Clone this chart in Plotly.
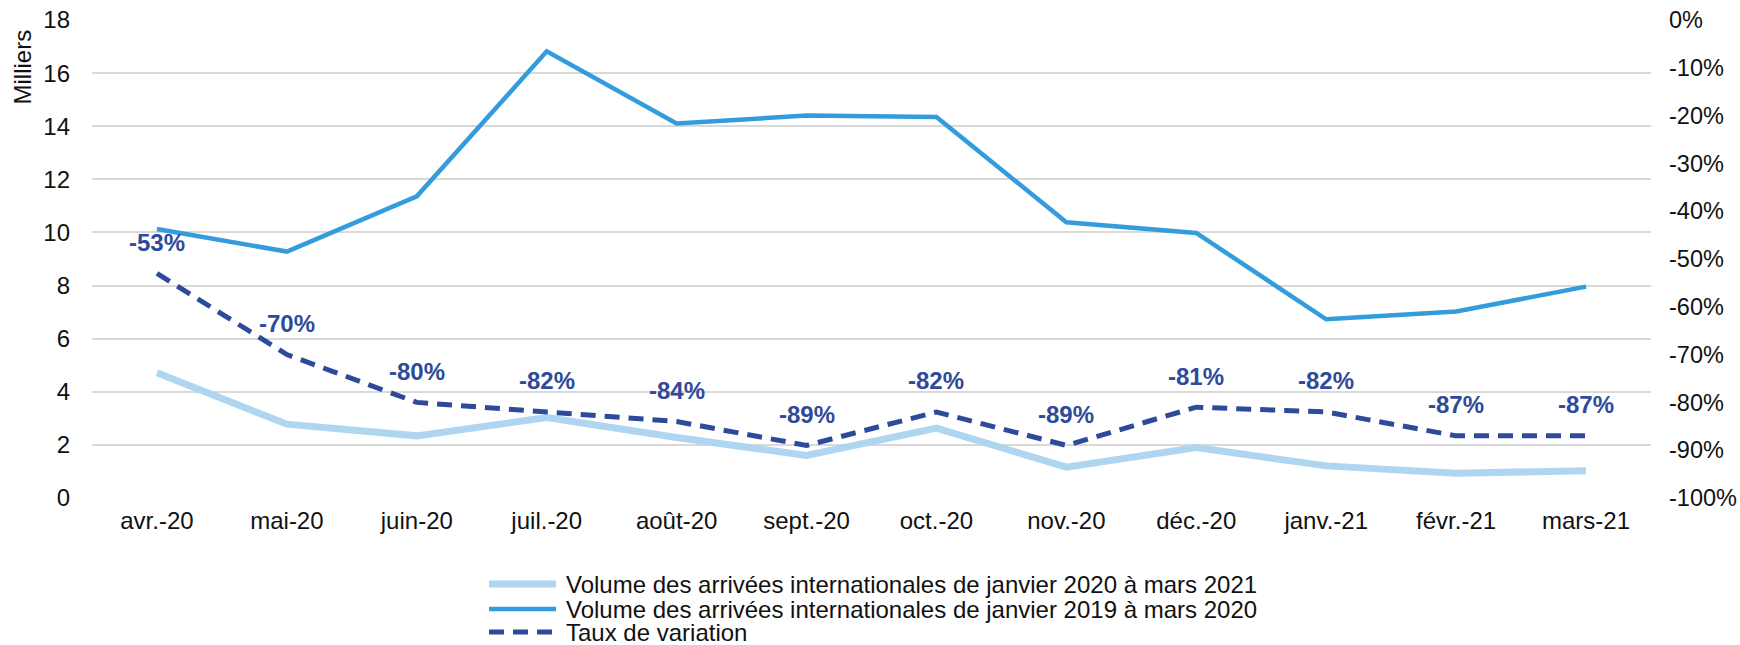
import plotly.graph_objects as go

months = ["avr.-20", "mai-20", "juin-20", "juil.-20", "août-20", "sept.-20",
          "oct.-20", "nov.-20", "déc.-20", "janv.-21", "févr.-21", "mars-21"]
vol_2020_2021 = [4.72, 2.78, 2.34, 3.03, 2.28, 1.60, 2.63, 1.16, 1.90, 1.21, 0.93, 1.03]
vol_2019_2020 = [10.13, 9.28, 11.36, 16.82, 14.10, 14.40, 14.35, 10.38, 9.98, 6.73, 7.02, 7.96]
taux = [-0.53, -0.70, -0.80, -0.82, -0.84, -0.89, -0.82, -0.89, -0.81, -0.82, -0.87, -0.87]
pct_tickvals = [-1.0, -0.9, -0.8, -0.7, -0.6, -0.5, -0.4, -0.3, -0.2, -0.1, 0.0]
pct_ticktext = ["-100%", "-90%", "-80%", "-70%", "-60%", "-50%", "-40%", "-30%", "-20%", "-10%", "0%"]
series_names = ["Volume des arrivées internationales de janvier 2020 à mars 2021",
                "Volume des arrivées internationales de janvier 2019 à mars 2020",
                "Taux de variation"]

LIGHT = "#AED6F1"
MID = "#339CDC"
DARK = "#2E4A9A"
TXT = "#111111"
FONT = "Liberation Sans, Arial, sans-serif"
FS = 24

W, H = 1740, 645
ML, MR, MT, MB = 92, 89, 20, 147
PW, PH = W - ML - MR, H - MT - MB


def px_x(px):
    return (px - ML) / PW


def px_y(py):
    return (H - MB - py) / PH


styles = [dict(color=LIGHT, width=7), dict(color=MID, width=4.5),
          dict(color=DARK, width=5, dash="15px,9px")]

fig = go.Figure()
fig.add_trace(go.Scatter(x=months, y=vol_2020_2021, mode="lines", name=series_names[0],
                         line=styles[0], showlegend=False))
fig.add_trace(go.Scatter(x=months, y=vol_2019_2020, mode="lines", name=series_names[1],
                         line=styles[1], showlegend=False))
fig.add_trace(go.Scatter(x=months, y=taux, mode="lines", yaxis="y2", name=series_names[2],
                         line=styles[2], showlegend=False))

annotations = []
for m, t in zip(months, taux):
    annotations.append(dict(x=m, y=t, xref="x", yref="y2", yshift=31,
                            text=f"{round(t*100):d}%", showarrow=False,
                            font=dict(family=FONT, size=FS, color=DARK, weight="bold")))
annotations.append(dict(x=px_x(22), y=px_y(28), xref="paper", yref="paper", text="Milliers",
                        textangle=-90, showarrow=False, xanchor="center", yanchor="top",
                        font=dict(family=FONT, size=FS, color=TXT)))

# legend (drawn below the plot)
shapes = []
legend_rows = [584, 609, 632]
for name, st, ry in zip(series_names, styles, legend_rows):
    shapes.append(dict(type="line", xref="paper", yref="paper",
                       x0=px_x(489), x1=px_x(556), y0=px_y(ry), y1=px_y(ry),
                       line=st))
    annotations.append(dict(x=px_x(564), y=px_y(ry), xref="paper", yref="paper",
                            text=name, showarrow=False, xanchor="left", yanchor="middle",
                            font=dict(family=FONT, size=FS, color=TXT)))

fig.update_layout(
    width=W, height=H,
    margin=dict(l=ML, r=MR, t=MT, b=MB),
    paper_bgcolor="white", plot_bgcolor="white",
    font=dict(family=FONT, size=FS, color=TXT),
    showlegend=False,
    xaxis=dict(type="category", range=[-0.5, 11.5], showgrid=False, zeroline=False,
               showline=False, ticks="", ticklabelstandoff=6, automargin=False,
               tickfont=dict(size=FS, color=TXT)),
    yaxis=dict(range=[0, 18], dtick=2, tick0=0, showgrid=True, gridcolor="#D9D9D9",
               gridwidth=1.5, zeroline=False, showline=False, ticks="", automargin=False,
               ticklabelstandoff=21, tickfont=dict(size=FS, color=TXT)),
    yaxis2=dict(range=[-1, 0], tickmode="array", tickvals=pct_tickvals, ticktext=pct_ticktext,
                overlaying="y", side="right",
                showgrid=False, zeroline=False, showline=False, ticks="", automargin=False,
                ticklabelstandoff=17, tickfont=dict(size=23.5, color=TXT)),
    annotations=annotations,
    shapes=shapes,
)

fig.write_html("out.html", config={"displayModeBar": False},
               post_script="document.body.style.margin='0';document.body.style.overflow='hidden';")
